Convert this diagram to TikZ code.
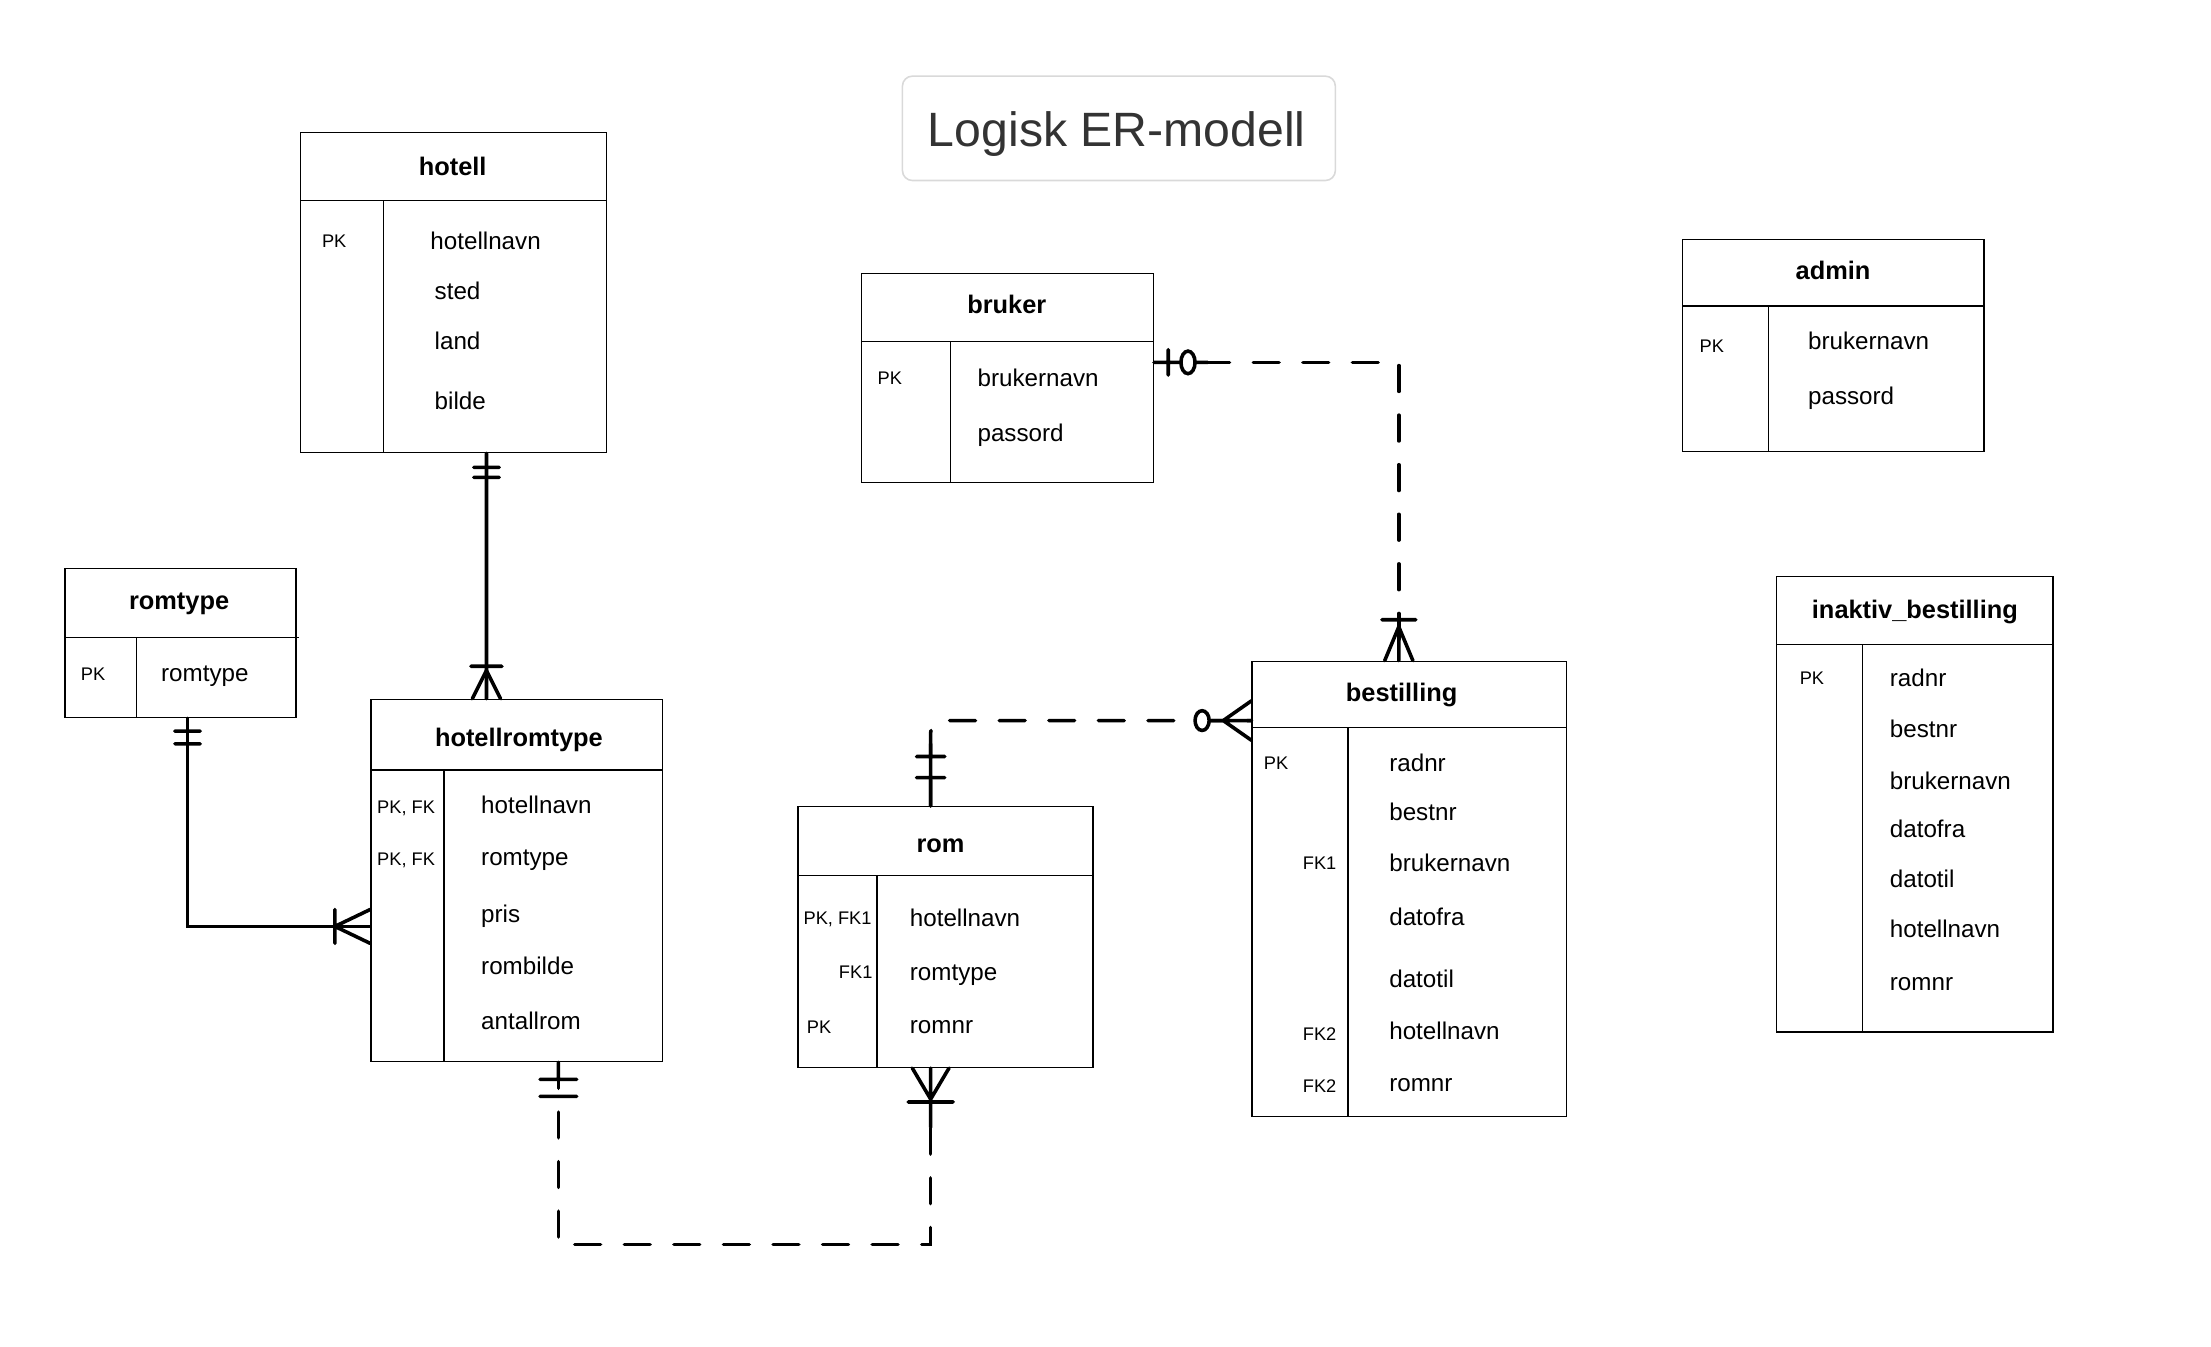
\documentclass[tikz,border=0pt]{standalone}
\usepackage{fontspec}
\setmainfont{Liberation Sans}
\usetikzlibrary{calc,fit}
\begin{document}
\begin{tikzpicture}[x=0.025cm,y=-0.025cm,
  ent/.style={draw,line width=0.7pt,inner sep=0pt},
  divl/.style={line width=0.7pt},
  ename/.style={inner sep=0pt,text height=9.2pt,text depth=0pt,font=\fontsize{12.8}{15}\selectfont\bfseries},
  attrib/.style={anchor=west,inner sep=0pt,text height=8.7pt,text depth=0pt,font=\fontsize{12.2}{14}\selectfont},
  keyt/.style={inner sep=0pt,text height=6.6pt,text depth=0pt,font=\fontsize{9.2}{11}\selectfont},
  rel/.style={line width=1.8pt,line cap=round},
  dsh/.style={rel,dash pattern=on 13pt off 12pt}]
\useasboundingbox (0,0) rectangle (1568,955);

% title
\node[fit={(640,54) (947,128)},draw=black!15,line width=0.8pt,rounded corners=5pt,inner sep=0pt] (ttlbox) {};
\node[text=black!80,inner sep=0pt,text height=17.4pt,text depth=0pt,font=\fontsize{24.3}{29}\selectfont] (ttl) at (792,92) {Logisk ER-modell};

% hotell
\node[ent,fit={(213,94) (430,321)}] (hotell) {};
\draw[divl] (213,142) -- (430,142) (272,142) -- (272,321);
\node[ename] (hotell-t) at (321,118) {hotell};
\node[keyt] (hotell-k) at (237,171) {PK};
\foreach \a/\x/\y [count=\i] in {hotellnavn/305/171,sted/308/206,land/308/242,bilde/308/284}
  \node[attrib] (hotell-\i) at (\x,\y) {\a};

% bruker
\node[ent,fit={(611,194) (818,342)}] (bruker) {};
\draw[divl] (611,242) -- (818,242) (674,242) -- (674,342);
\node[ename] (bruker-t) at (714,216) {bruker};
\node[keyt] (bruker-k) at (631,268) {PK};
\foreach \a/\y [count=\i] in {brukernavn/268,passord/307}
  \node[attrib] (bruker-\i) at (693,\y) {\a};

% admin
\node[ent,fit={(1193,170) (1407,320)}] (admin) {};
\draw[divl] (1193,217) -- (1407,217) (1254,217) -- (1254,320);
\node[ename] (admin-t) at (1300,192) {admin};
\node[keyt] (admin-k) at (1214,245) {PK};
\foreach \a/\y [count=\i] in {brukernavn/242,passord/281}
  \node[attrib] (admin-\i) at (1282,\y) {\a};

% romtype
\node[ent,fit={(46,403) (210,509)}] (romtype) {};
\draw[divl] (46,452) -- (212,452) (97,452) -- (97,509);
\node[ename] (romtype-t) at (127,426) {romtype};
\node[keyt] (romtype-k) at (66,478) {PK};
\node[attrib] (romtype-1) at (114,477) {romtype};

% hotellromtype
\node[ent,fit={(263,496) (470,753)}] (hrt) {};
\draw[divl] (263,546) -- (470,546) (315,546) -- (315,753);
\node[ename] (hrt-t) at (368,523) {hotellromtype};
\node[keyt] (hrt-k1) at (288,572) {PK, FK};
\node[keyt] (hrt-k2) at (288,609) {PK, FK};
\foreach \a/\y [count=\i] in {hotellnavn/571,romtype/608,pris/648,rombilde/685,antallrom/724}
  \node[attrib] (hrt-\i) at (341,\y) {\a};

% rom
\node[ent,fit={(566,572) (775,757)}] (rom) {};
\draw[divl] (566,621) -- (775,621) (622,621) -- (622,757);
\node[ename] (rom-t) at (667,598) {rom};
\node[keyt] (rom-k1) at (594,651) {PK, FK1};
\node[keyt,anchor=east] (rom-k2) at (619,689) {FK1};
\node[keyt,anchor=west] (rom-k3) at (572,728) {PK};
\foreach \a/\y [count=\i] in {hotellnavn/651,romtype/689,romnr/727}
  \node[attrib] (rom-\i) at (645,\y) {\a};

% bestilling
\node[ent,fit={(888,469) (1111,792)}] (best) {};
\draw[divl] (888,516) -- (1111,516) (956,516) -- (956,792);
\node[ename] (best-t) at (994,491) {bestilling};
\node[keyt] (best-k1) at (905,541) {PK};
\node[keyt,anchor=east] (best-k2) at (948,612) {FK1};
\node[keyt,anchor=east] (best-k3) at (948,733) {FK2};
\node[keyt,anchor=east] (best-k4) at (948,770) {FK2};
\foreach \a/\y [count=\i] in {radnr/541,bestnr/576,brukernavn/612,datofra/650,datotil/694,hotellnavn/731,romnr/768}
  \node[attrib] (best-\i) at (985,\y) {\a};

% inaktiv_bestilling
\node[ent,fit={(1260,409) (1456,732)}] (inakt) {};
\draw[divl] (1260,457) -- (1456,457) (1321,457) -- (1321,732);
\node[ename] (inakt-t) at (1358,432) {inaktiv\_bestilling};
\node[keyt] (inakt-k) at (1285,481) {PK};
\foreach \a/\y [count=\i] in {radnr/481,bestnr/517,brukernavn/554,datofra/588,datotil/623,hotellnavn/659,romnr/696}
  \node[attrib] (inakt-\i) at (1340,\y) {\a};

% hotell -- hotellromtype
\draw[rel] ($(hotell.south)+(23.5,0)$) coordinate (c1a) -- ($(hrt.north)+(-21.5,0)$) coordinate (c1b);
\draw[rel] (c1a) ++(-9,10) -- ++(18,0) (c1a) ++(-9,17) -- ++(18,0)
  (c1b) ++(-11,-23) -- ++(22,0) (c1b) ++(-10,0) -- ++(10,-20) -- ++(10,20);

% romtype -- hotellromtype
\draw[rel] ($(romtype.south)+(5,0)$) coordinate (c2a) |- ($(hrt.west)+(0,32.5)$) coordinate (c2b);
\draw[rel] (c2a) ++(-9,9) -- ++(18,0) (c2a) ++(-9,18) -- ++(18,0)
  (c2b) ++(-25,-12) -- ++(0,24) (c2b) ++(0,-12) -- ++(-25,12) -- ++(25,12);

% hotellromtype -- rom
\draw[dsh] ($(hrt.south)+(29.5,0)$) coordinate (c3a) -- ++(0,129) -| ($(rom.south)+(-10.5,0)$) coordinate (c3b);
\draw[rel] (c3a) -- ++(0,12) (c3a) ++(-13,12) -- ++(26,0) (c3a) ++(-13,24) -- ++(26,0)
  (c3b) -- ++(0,42) (c3b) ++(-16,24) -- ++(32,0) (c3b) ++(-13,0) -- ++(13,22) -- ++(13,-22);

% rom -- bestilling
\draw[dsh,rounded corners=6pt] ($(rom.north)+(-10.5,0)$) coordinate (c4a) |- ($(best.west)+(0,-119.5)$) coordinate (c4b);
\draw[rel] (c4a) -- ++(0,-44) (c4a) ++(-10,-20) -- ++(20,0) (c4a) ++(-10,-35) -- ++(20,0)
  (c4b) -- ++(-30,0) (c4b) ++(0,-14) -- ++(-20,14) -- ++(20,14);
\filldraw[rel,fill=white] ($(c4b)+(-35,0)$) ellipse (5 and 7);

% bruker -- bestilling
\draw[dsh] ($(bruker.east)+(0,-11)$) coordinate (c5a) -| ($(best.north)+(-7.5,0)$) coordinate (c5b);
\draw[rel] (c5a) -- ++(38,0) (c5a) ++(10,-9) -- ++(0,18)
  (c5b) -- ++(0,-30) (c5b) ++(-12,-29) -- ++(24,0) (c5b) ++(-10,0) -- ++(10,-24) -- ++(10,24);
\filldraw[rel,fill=white] ($(c5a)+(24,0)$) ellipse (5 and 8);
\end{tikzpicture}
\end{document}
